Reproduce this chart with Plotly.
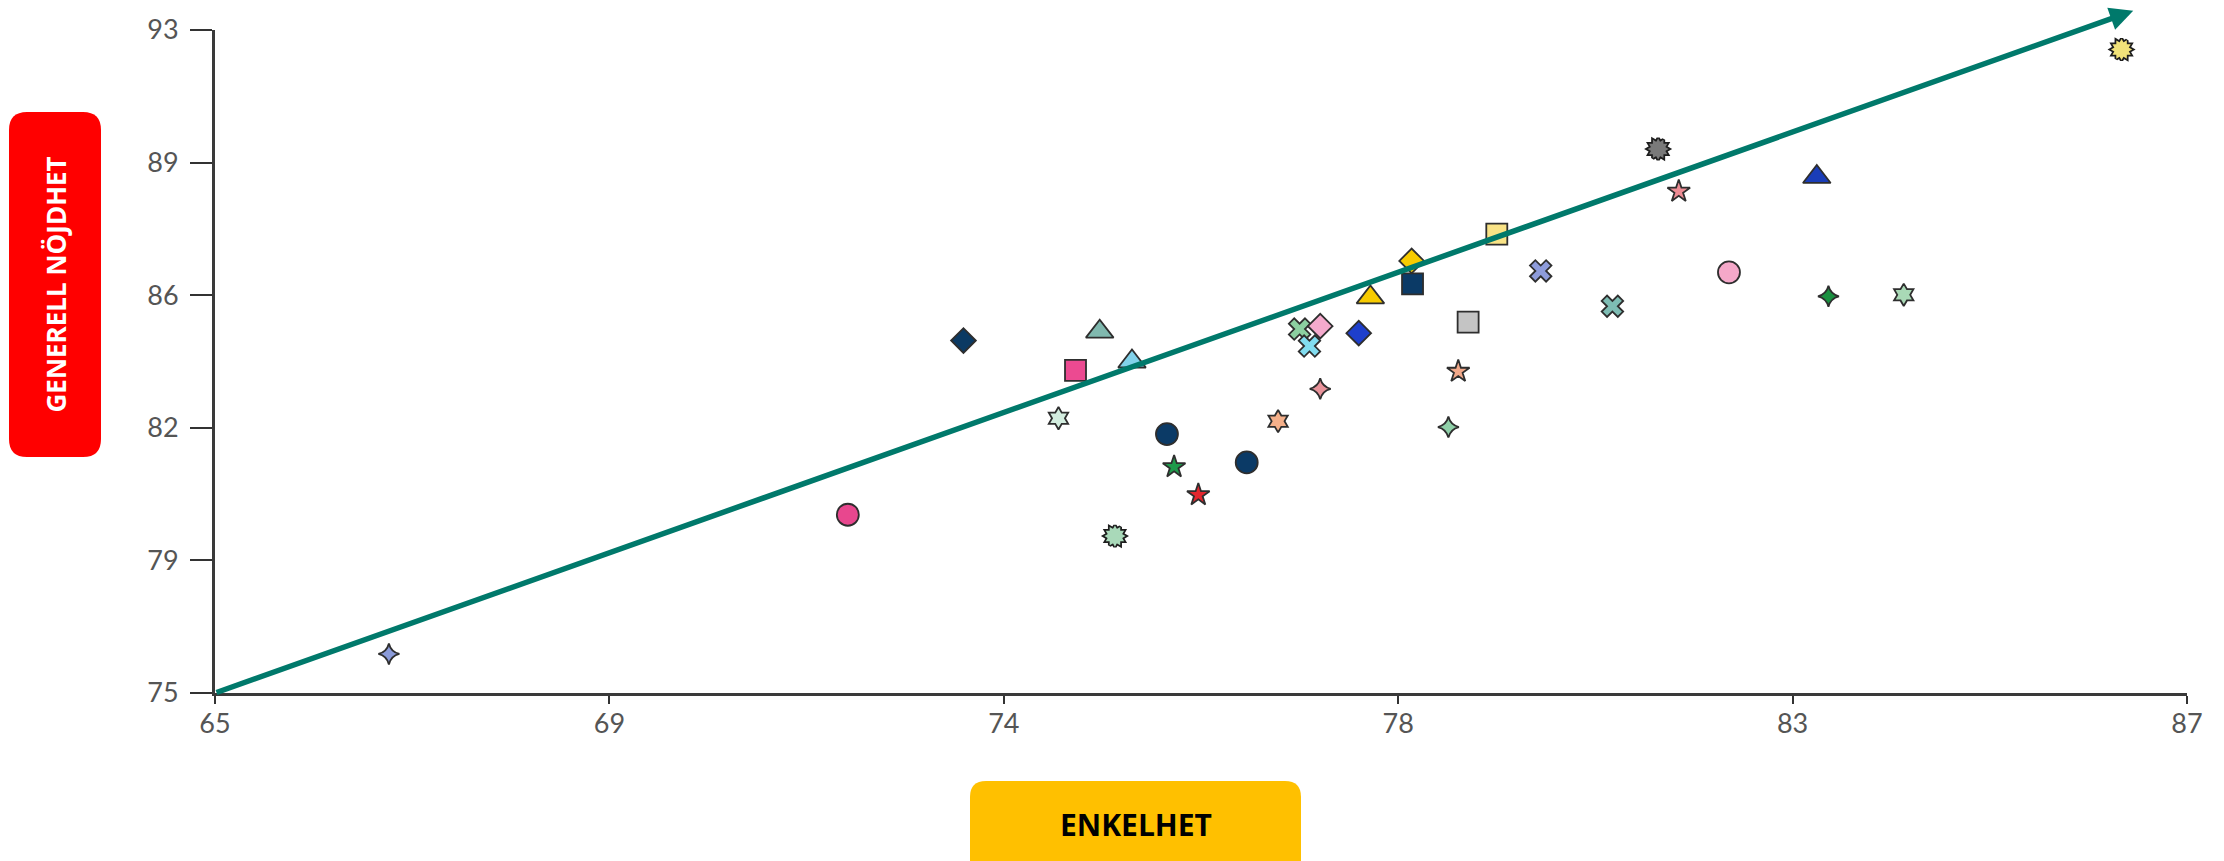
import plotly.graph_objects as go

# ---------------- data ----------------
x_enkelhet = [66.94, 72.06, 73.35, 74.60, 74.41, 74.87, 75.23, 75.04, 75.62, 75.70,
              75.97, 76.51, 76.86, 77.10, 77.33, 77.21, 77.33, 77.76, 77.89, 78.35,
              78.36, 78.98, 78.87, 78.76, 79.30, 79.79, 80.59, 81.10, 81.33, 81.89,
              82.87, 83.00, 83.84, 86.27]
y_nojdhet = [76.06, 79.84, 84.57, 83.76, 82.46, 84.81, 84.00, 79.26, 82.03, 81.14,
             80.38, 81.26, 82.38, 84.88, 84.96, 84.42, 83.26, 84.77, 85.74, 86.73,
             86.11, 85.07, 83.73, 82.22, 87.46, 86.46, 85.50, 89.77, 88.62, 86.42,
             89.01, 85.77, 85.81, 92.47]

# styles (one per point)
symbols = ["star-diamond", "circle", "diamond", "square", "hexagram", "triangle-up",
           "triangle-up", "sun", "circle", "star", "star", "circle", "hexagram", "x",
           "diamond", "x", "star-diamond", "diamond", "triangle-up", "diamond", "square",
           "square", "star", "star-diamond", "square", "x", "x", "sun", "star", "circle",
           "triangle-up", "star-diamond", "hexagram", "sun"]
colors = ["#8B9BD9", "#E8478E", "#0B3A63", "#EC4A91", "#D3EDDF", "#80B9AF",
          "#82D2EA", "#A9D9B9", "#0B3A66", "#1F9A4B", "#E3262E", "#0B3A66", "#F5B08A",
          "#8CCFA0", "#F5AACD", "#82DDF0", "#E9939B", "#1E3FCC", "#F7CB00", "#F7CB00",
          "#0B3A66", "#C4C4C4", "#F2A98A", "#8FD0A8", "#F9E386", "#8E9CDB", "#7EBDB4",
          "#7A7A7A", "#EE8C94", "#F5A8C9", "#1A3DB8", "#1A9040", "#A9D9B6", "#F2E37A"]
symbol_size = {"circle": 22, "square": 21, "diamond": 19, "triangle-up": 24, "x": 19,
               "star": 17, "star-diamond": 15, "hexagram": 17, "sun": 16}

# axis ticks: five equal intervals, labels rounded
x_range = [65, 87]
y_range = [75, 93]
x_tickvals = [65, 69.4, 73.8, 78.2, 82.6, 87]
x_ticktext = ["65", "69", "74", "78", "83", "87"]
y_tickvals = [75, 78.6, 82.2, 85.8, 89.4, 93]
y_ticktext = ["75", "79", "82", "86", "89", "93"]

# trend arrow (start -> end) in data units
arrow_x = [65, 86.40]
arrow_y = [75, 93.52]

x_title = "ENKELHET"
y_title = "GENERELL NÖJDHET"

# ---------------- figure ----------------
W, H = 2224, 861
L, R, T, B = 215, 37, 30, 168
PW, PH = W - L - R, H - T - B
OUTLINE = "#2e2e2e"

fig = go.Figure()

# regular markers
idx = [i for i, s in enumerate(symbols) if s != "sun"]
fig.add_trace(go.Scatter(
    x=[x_enkelhet[i] for i in idx], y=[y_nojdhet[i] for i in idx], mode="markers",
    marker=dict(symbol=[symbols[i] for i in idx],
                color=[colors[i] for i in idx],
                size=[symbol_size[symbols[i]] for i in idx],
                opacity=1,
                line=dict(color=OUTLINE, width=1.8)),
    showlegend=False, hoverinfo="x+y", cliponaxis=False))

# "sun" markers: two rotated hexagrams, outline layer then fill layer
sidx = [i for i, s in enumerate(symbols) if s == "sun"]
sx = [x_enkelhet[i] for i in sidx]
sy = [y_nojdhet[i] for i in sidx]
sc = [colors[i] for i in sidx]
for layer in ("outline", "fill"):
    for ang in (0, 30):
        fig.add_trace(go.Scatter(
            x=sx, y=sy, mode="markers",
            marker=dict(symbol="hexagram", angle=ang, size=symbol_size["sun"], color=sc,
                        opacity=1,
                        line=dict(color="#1e1e1e", width=3.5 if layer == "outline" else 0)),
            showlegend=False, hoverinfo="skip", cliponaxis=False))

tickfont = dict(family="Lato", size=27, color="#555555")
fig.update_xaxes(range=x_range, tickmode="array", tickvals=x_tickvals, ticktext=x_ticktext,
                 showgrid=False, zeroline=False, showline=True, linecolor="#3a3a3a",
                 linewidth=3, ticks="outside", ticklen=8, tickwidth=2, tickcolor="#333333",
                 tickfont=tickfont, ticklabelstandoff=-3)
fig.update_yaxes(range=y_range, tickmode="array", tickvals=y_tickvals, ticktext=y_ticktext,
                 showgrid=False, zeroline=False, showline=True, linecolor="#3a3a3a",
                 linewidth=3, ticks="outside", ticklen=22, tickwidth=2, tickcolor="#333333",
                 tickfont=tickfont, ticklabelstandoff=6)

# trend arrow
fig.add_annotation(x=arrow_x[1], y=arrow_y[1], ax=arrow_x[0], ay=arrow_y[0],
                   xref="x", yref="y", axref="x", ayref="y", text="", showarrow=True,
                   arrowhead=2, arrowsize=0.85, arrowwidth=5.5, arrowcolor="#00796B",
                   standoff=0, startstandoff=0)


def px2x(px):
    return (px - L) / PW


def px2y(py):
    return (H - B - py) / PH


def rounded_box(x0, y0, x1, y1, r):
    pts = [("M", x0 + r, y0), ("L", x1 - r, y0), ("Q", x1, y0, x1, y0 + r),
           ("L", x1, y1 - r), ("Q", x1, y1, x1 - r, y1), ("L", x0 + r, y1),
           ("Q", x0, y1, x0, y1 - r), ("L", x0, y0 + r), ("Q", x0, y0, x0 + r, y0)]
    out = []
    for p in pts:
        cmd, vals = p[0], p[1:]
        coords = []
        for k in range(0, len(vals), 2):
            coords.append(f"{px2x(vals[k]):.5f},{px2y(vals[k + 1]):.5f}")
        out.append(cmd + " ".join(coords))
    return " ".join(out) + " Z"


fig.add_shape(type="path", xref="paper", yref="paper", path=rounded_box(9, 112, 101, 457, 18),
              fillcolor="#FF0000", line=dict(width=0), layer="above")
fig.add_shape(type="path", xref="paper", yref="paper", path=rounded_box(970, 781, 1301, 900, 16),
              fillcolor="#FFC000", line=dict(width=0), layer="above")

fig.add_annotation(x=px2x(55), y=px2y(284.5), xref="paper", yref="paper", text=f"<b>{y_title}</b>",
                   textangle=-90, showarrow=False, xanchor="center", yanchor="middle",
                   font=dict(family="Open Sans", size=26, color="#FFFFFF"))
fig.add_annotation(x=px2x(1136), y=px2y(824), xref="paper", yref="paper", text=f"<b>{x_title}</b>",
                   showarrow=False, xanchor="center", yanchor="middle",
                   font=dict(family="Open Sans", size=30, color="#000000"))

fig.update_layout(width=W, height=H, margin=dict(l=L, r=R, t=T, b=B),
                  paper_bgcolor="white", plot_bgcolor="white", showlegend=False)

fig.write_html("out.html")
